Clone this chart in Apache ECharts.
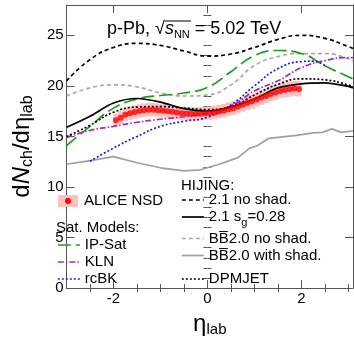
<!DOCTYPE html>
<html>
<head>
<meta charset="utf-8">
<script src="https://cdn.jsdelivr.net/npm/echarts@6/dist/echarts.min.js"></script>
<style>
  html, body { margin: 0; padding: 0; background: #fff; }
  #chart { width: 354px; height: 342px; }
</style>
</head>
<body>
<div id="chart"></div>
<script>
  // axis ticks
  const xMajorTicks = [-2, 0, 2];
  const xMinorTicks = [-2.5, -1.5, -1, -0.5, 0.5, 1, 1.5, 2.5, 3];
  const yMajorTicks = [0, 5, 10, 15, 20, 25];
  const yMinorTicks = [1, 2, 3, 4, 6, 7, 8, 9, 11, 12, 13, 14, 16, 17, 18, 19, 21, 22, 23, 24, 26, 27];

  // ALICE NSD data
  const aliceEta = [-1.95, -1.85, -1.75, -1.65, -1.55, -1.45, -1.35, -1.25, -1.15, -1.05,
    -0.95, -0.85, -0.75, -0.65, -0.55, -0.45, -0.35, -0.25, -0.15, -0.05,
    0.05, 0.15, 0.25, 0.35, 0.45, 0.55, 0.65, 0.75, 0.85, 0.95,
    1.05, 1.15, 1.25, 1.35, 1.45, 1.55, 1.65, 1.75, 1.85, 1.95];
  const aliceVal = [16.6, 16.85, 17.15, 17.3, 17.42, 17.52, 17.6, 17.65, 17.65, 17.6,
    17.55, 17.5, 17.45, 17.37, 17.3, 17.27, 17.24, 17.24, 17.24, 17.27,
    17.3, 17.37, 17.47, 17.55, 17.7, 17.8, 17.97, 18.13, 18.3, 18.45,
    18.65, 18.85, 19.0, 19.2, 19.35, 19.5, 19.6, 19.67, 19.75, 19.7];
  const aliceErr = [0.63, 0.64, 0.65, 0.66, 0.66, 0.67, 0.67, 0.67, 0.67, 0.67,
    0.67, 0.66, 0.66, 0.66, 0.66, 0.66, 0.66, 0.66, 0.66, 0.66,
    0.66, 0.66, 0.66, 0.67, 0.67, 0.68, 0.68, 0.69, 0.7, 0.7,
    0.71, 0.72, 0.72, 0.73, 0.74, 0.74, 0.74, 0.75, 0.75, 0.75];

  // model curves
  const etaGrid = [-3, -2.5, -2, -1.5, -1, -0.5, 0, 0.5, 1, 1.5, 2, 2.5, 3, 3.1];
  const hijingNoShad = [20.5, 22.6, 23.8, 24.2, 24.0, 23.45, 22.95, 23.15, 23.8, 24.6, 25.0, 24.7, 23.9, 23.7];
  const hijingSg = [15.9, 17.0, 18.3, 18.75, 18.4, 17.75, 17.5, 17.9, 18.7, 19.8, 20.2, 20.3, 19.95, 19.8];
  const bbNoShad = [19.0, 19.8, 20.1, 19.9, 19.3, 19.0, 19.1, 20.1, 22.0, 22.9, 23.2, 23.2, 22.7, 22.5];
  const dpmjet = [15.0, 16.1, 17.4, 17.9, 17.95, 17.8, 17.65, 17.95, 19.1, 20.15, 20.7, 20.6, 20.1, 19.9];
  const ipSat = [14.1, 16.0, 17.8, 18.7, 19.05, 19.3, 19.85, 21.4, 23.0, 23.5, 23.2, 22.0, 20.9, 20.7];
  const kln = [14.9, 15.6, 16.0, 16.4, 16.7, 16.95, 17.3, 18.0, 19.5, 20.5, 21.8, 22.5, 22.8, 22.8];
  const rcbkEta = [-2.5, -2, -1.5, -1, -0.5, 0, 0.5, 1, 1.5, 2, 2.25, 2.5];
  const rcbk = [12.55, 13.85, 15.0, 16.0, 16.5, 16.9, 18.1, 20.0, 21.7, 22.4, 22.45, 22.0];
  const bbShadEta = [-3, -2.5, -2, -1.5, -1, -0.5, -0.15, 0.25, 0.65, 0.9, 1.05, 1.3, 1.6, 1.9, 2.25, 2.45, 2.65, 2.85, 3.1];
  const bbShad = [12.25, 12.6, 13.0, 12.4, 11.9, 11.6, 11.7, 12.25, 12.9, 13.85, 14.05, 14.8, 14.95, 15.1, 15.35, 15.4, 15.75, 15.4, 15.55];

  const FONT = '"Liberation Sans", Arial, sans-serif';
  const AXIS_COLOR = '#555';

  const pairs = (xs, ys) => xs.map((x, i) => [x, ys[i]]);

  const legendLabels = {
    'IP-Sat': 'IP-Sat',
    'KLN': 'KLN',
    'rcBK': 'rcBK',
    'HIJING 2.1 no shad.': '2.1 no shad.',
    'HIJING 2.1 sg': '2.1 s{sub|g}=0.28',
    'BB 2.0 no shad.': 'BB\u03052.0 no shad.',
    'BB 2.0 with shad.': 'BB\u03052.0 with shad.',
    'DPMJET': 'DPMJET',
  };

  const legendText = {
    fontSize: 15,
    fontFamily: FONT,
    color: '#000',
    lineHeight: 15,
    rich: {
      sub: { fontSize: 11, fontFamily: FONT, lineHeight: 11, verticalAlign: 'bottom', padding: [0, 0, -4, 0] },
    },
  };

  const makeLegend = (names, left, top) => ({
    data: names,
    orient: 'vertical',
    left: left,
    top: top,
    padding: 0,
    itemWidth: 22,
    itemHeight: 10,
    itemGap: 2,
    selectedMode: false,
    itemStyle: { opacity: 0 },
    lineStyle: { width: 1.7 },
    formatter: (name) => legendLabels[name],
    textStyle: legendText,
  });

  const lineSeries = (name, xs, ys, color, type, smooth) => ({
    name: name,
    type: 'line',
    data: pairs(xs, ys),
    symbol: 'none',
    smooth: smooth,
    z: 3,
    lineStyle: { color: color, width: 1.7, type: type },
    itemStyle: { color: color },
  });

  const valueAxis = (extra) => Object.assign({
    type: 'value',
    splitLine: { show: false },
    axisLine: { show: true, onZero: false, lineStyle: { color: AXIS_COLOR, width: 1 } },
    axisLabel: { show: false },
  }, extra);

  const chart = echarts.init(document.getElementById('chart'));

  const option = {
    backgroundColor: '#fff',
    animation: false,
    grid: { left: 46, right: 1, top: 5, bottom: 45 },
    xAxis: [
      valueAxis({
        position: 'bottom', min: -3, max: 3.1,
        axisTick: { inside: true, length: 8, customValues: xMajorTicks, lineStyle: { color: AXIS_COLOR } },
        axisLabel: { show: true, customValues: xMajorTicks, margin: 3, fontSize: 15, fontFamily: FONT, color: '#000' },
        name: '{e|\u03b7}{s|lab}',
        nameLocation: 'middle',
        nameGap: 9,
        nameTextStyle: {
          fontFamily: FONT, fontSize: 24, lineHeight: 26, color: '#000',
          rich: {
            e: { fontSize: 24, fontFamily: FONT, lineHeight: 26 },
            s: { fontSize: 15, fontFamily: FONT, lineHeight: 15, verticalAlign: 'bottom' },
          },
        },
      }),
      valueAxis({
        position: 'bottom', min: -3, max: 3.1,
        axisLine: { show: false },
        axisTick: { inside: true, length: 4, customValues: xMinorTicks, lineStyle: { color: AXIS_COLOR } },
      }),
      valueAxis({
        position: 'top', min: -3, max: 3.1,
        axisTick: { inside: true, length: 8, customValues: xMajorTicks, lineStyle: { color: AXIS_COLOR } },
      }),
      valueAxis({
        position: 'top', min: -3, max: 3.1,
        axisLine: { show: false },
        axisTick: { inside: true, length: 4, customValues: xMinorTicks, lineStyle: { color: AXIS_COLOR } },
      }),
    ],
    yAxis: [
      valueAxis({
        position: 'left', min: 0, max: 28,
        axisTick: { inside: true, length: 8, customValues: yMajorTicks, lineStyle: { color: AXIS_COLOR } },
        axisLabel: { show: true, customValues: yMajorTicks, margin: 3, fontSize: 15, fontFamily: FONT, color: '#000' },
        name: '{m|d}{i|N}{s|ch}{m|/d\u03b7}{s|lab}',
        nameLocation: 'middle',
        nameRotate: 90,
        nameGap: 12,
        nameTextStyle: {
          fontFamily: FONT, fontSize: 24, lineHeight: 28, color: '#000',
          rich: {
            m: { fontSize: 24, fontFamily: FONT, lineHeight: 28 },
            i: { fontSize: 24, fontFamily: FONT, fontStyle: 'italic', lineHeight: 28 },
            s: { fontSize: 16, fontFamily: FONT, lineHeight: 16, verticalAlign: 'bottom' },
          },
        },
      }),
      valueAxis({
        position: 'left', min: 0, max: 28,
        axisLine: { show: false },
        axisTick: { inside: true, length: 4, customValues: yMinorTicks, lineStyle: { color: AXIS_COLOR } },
      }),
      valueAxis({
        position: 'right', min: 0, max: 28,
        axisTick: { inside: true, length: 8, customValues: yMajorTicks, lineStyle: { color: AXIS_COLOR } },
      }),
      valueAxis({
        position: 'right', min: 0, max: 28,
        axisLine: { show: false },
        axisTick: { inside: true, length: 4, customValues: yMinorTicks, lineStyle: { color: AXIS_COLOR } },
      }),
    ],
    legend: [
      makeLegend(['IP-Sat', 'KLN', 'rcBK'], 57, 237.5),
      makeLegend(['HIJING 2.1 no shad.', 'HIJING 2.1 sg'], 181, 192.5),
      makeLegend(['BB 2.0 no shad.', 'BB 2.0 with shad.'], 181, 231),
      makeLegend(['DPMJET'], 181, 271.5),
    ],
    graphic: [
      {
        type: 'text', left: 107, top: 18, z: 10,
        style: {
          text: 'p-Pb, \u221a{it|s}{sub|NN} = 5.02 TeV',
          font: '18px ' + FONT, fill: '#000', lineHeight: 22,
          rich: {
            it: { fontSize: 18, fontStyle: 'italic', fontFamily: FONT, lineHeight: 22 },
            sub: { fontSize: 11, fontFamily: FONT, lineHeight: 11, verticalAlign: 'bottom' },
          },
        },
      },
      { type: 'line', z: 10, shape: { x1: 165, y1: 21, x2: 191, y2: 21 }, style: { stroke: '#000', lineWidth: 1 } },
      { type: 'rect', z: 10, shape: { x: 58, y: 195, width: 20, height: 12 }, style: { fill: '#ffc0c0' } },
      { type: 'circle', z: 11, shape: { cx: 68, cy: 201, r: 3 }, style: { fill: '#ff0000' } },
      { type: 'text', z: 10, left: 84, top: 193, style: { text: 'ALICE NSD', font: '15px ' + FONT, fill: '#000' } },
      { type: 'text', z: 10, left: 56, top: 220, style: { text: 'Sat. Models:', font: '15px ' + FONT, fill: '#000' } },
      { type: 'text', z: 10, left: 181, top: 178, style: { text: 'HIJING:', font: '15px ' + FONT, fill: '#000' } },
    ],
    series: [
      {
        name: 'ALICE band',
        type: 'custom',
        z: 1,
        data: aliceEta.map((x, i) => [x, aliceVal[i], aliceErr[i]]),
        renderItem: (params, api) => {
          const x = api.value(0);
          const y = api.value(1);
          const e = api.value(2);
          const p1 = api.coord([x - 0.05, y + e]);
          const p2 = api.coord([x + 0.05, y - e]);
          return {
            type: 'rect',
            shape: { x: p1[0] - 0.3, y: p1[1], width: p2[0] - p1[0] + 0.6, height: p2[1] - p1[1] },
            style: { fill: '#ffc0c0' },
          };
        },
      },
      lineSeries('BB 2.0 with shad.', bbShadEta, bbShad, '#a0a0a0', 'solid', false),
      lineSeries('BB 2.0 no shad.', etaGrid, bbNoShad, '#a8a8a8', [4, 3], true),
      lineSeries('HIJING 2.1 no shad.', etaGrid, hijingNoShad, '#000', [4, 3], true),
      lineSeries('IP-Sat', etaGrid, ipSat, '#1c9c1c', [13, 5], true),
      lineSeries('KLN', etaGrid, kln, '#a030b0', [6, 2, 1.5, 2], true),
      lineSeries('rcBK', rcbkEta, rcbk, '#1a1aff', [2, 2], true),
      lineSeries('HIJING 2.1 sg', etaGrid, hijingSg, '#000', 'solid', 0.3),
      lineSeries('DPMJET', etaGrid, dpmjet, '#000', [2, 2], true),
      {
        name: 'ALICE NSD',
        type: 'scatter',
        z: 5,
        data: pairs(aliceEta, aliceVal),
        symbol: 'circle',
        symbolSize: 6,
        itemStyle: { color: '#ff0000' },
      },
    ],
  };

  chart.setOption(option);
</script>
</body>
</html>
